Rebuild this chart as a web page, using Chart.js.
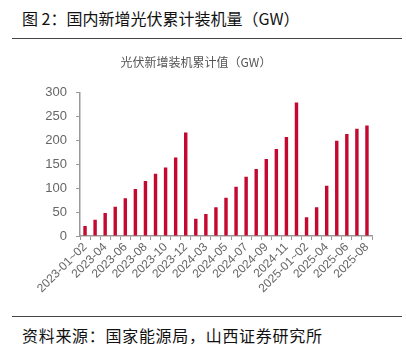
<!DOCTYPE html>
<html>
<head>
<meta charset="utf-8">
<script src="https://cdn.jsdelivr.net/npm/chart.js@4.4.1/dist/chart.umd.min.js"></script>
<style>
  html, body { margin: 0; padding: 0; background: #fff; }
  body { width: 406px; height: 350px; position: relative; overflow: hidden; }
  .heading {
    position: absolute; left: 22px; top: 6px;
    font-family: "Noto Sans CJK SC", sans-serif; font-size: 16px; color: #111;
    line-height: 24px; white-space: nowrap;
  }
  .rule { position: absolute; left: 12px; width: 390px; height: 1px; background: #444; }
  .box { position: absolute; left: 0; top: 44px; width: 406px; height: 262px; }
  .source {
    position: absolute; left: 22px; top: 323px;
    font-family: "Noto Sans CJK SC", sans-serif; font-size: 16px; color: #111;
    line-height: 24px; white-space: nowrap; letter-spacing: 0.7px;
  }
</style>
</head>
<body>
<div class="heading">图 2：国内新增光伏累计装机量（GW）</div>
<div class="rule" style="top:38px"></div>
<div class="box"><canvas id="grafico"></canvas></div>
<div class="rule" style="top:316px"></div>
<div class="source">资料来源：国家能源局，山西证券研究所</div>
<script>
const meses = [
  '2023-01~02', '2023-03', '2023-04', '2023-05', '2023-06', '2023-07', '2023-08', '2023-09', '2023-10', '2023-11', '2023-12',
  '2024-01~02', '2024-03', '2024-04', '2024-05', '2024-06', '2024-07', '2024-08', '2024-09', '2024-10', '2024-11', '2024-12',
  '2025-01~02', '2025-03', '2025-04', '2025-05', '2025-06', '2025-07', '2025-08'
];
const acumulado = [
  21, 34, 48, 61, 79, 98, 115, 130, 143, 164, 216,
  36, 46, 60, 80, 103, 124, 140, 161, 182, 207, 279,
  39, 60, 105, 199, 213, 224, 231
];
const ticksY = [0, 50, 100, 150, 200, 250, 300];

const gris = '#999';
const textoGris = '#666';

new Chart(document.getElementById('grafico'), {
  type: 'bar',
  data: {
    labels: meses,
    datasets: [{
      label: '光伏新增装机累计值（GW）',
      data: acumulado,
      backgroundColor: '#C4082F',
      barPercentage: 0.34,
      categoryPercentage: 1
    }]
  },
  options: {
    responsive: true,
    maintainAspectRatio: false,
    animation: false,
    layout: { padding: { left: 20, right: 34, top: 0, bottom: 0 } },
    plugins: {
      legend: { display: false },
      tooltip: { enabled: false },
      title: {
        display: true,
        text: '光伏新增装机累计值（GW）',
        color: '#555',
        font: { family: '"Noto Sans CJK SC", sans-serif', size: 12, weight: 'normal' },
        padding: { top: 11, bottom: 23 }
      }
    },
    scales: {
      x: {
        grid: { drawOnChartArea: false, drawTicks: true, tickLength: 4, color: gris, offset: true },
        border: { color: gris, width: 1.5 },
        ticks: {
          autoSkip: false,
          maxRotation: 45,
          minRotation: 45,
          padding: 0,
          color: textoGris,
          font: { family: '"Liberation Sans", Arial, sans-serif', size: 12 },
          callback: (v, i) => (i % 2 === 0 ? meses[i] : '')
        },
        afterFit: s => { s.height = 70; }
      },
      y: {
        min: 0,
        max: 300,
        afterBuildTicks: s => { s.ticks = ticksY.map(v => ({ value: v })); },
        grid: { drawOnChartArea: false, drawTicks: true, tickLength: 4, color: gris },
        border: { color: gris, width: 1.5 },
        ticks: {
          padding: 9,
          color: textoGris,
          font: { family: '"Liberation Sans", Arial, sans-serif', size: 13 }
        },
        afterFit: s => { s.width = 60; }
      }
    }
  }
});
</script>
</body>
</html>
